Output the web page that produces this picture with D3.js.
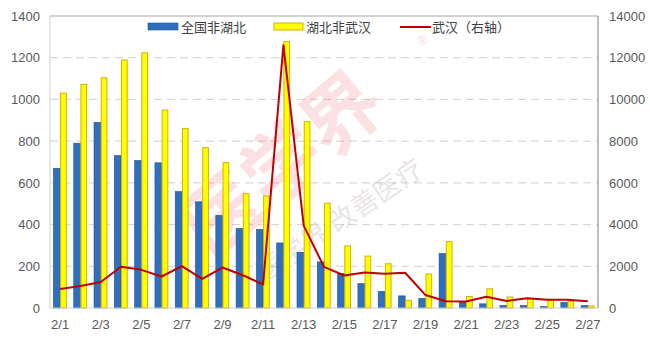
<!DOCTYPE html>
<html>
<head>
<meta charset="utf-8">
<script src="https://cdnjs.cloudflare.com/ajax/libs/d3/7.8.5/d3.min.js"></script>
<style>
  body { margin: 0; background: #fff; }
  text { font-family: "Liberation Sans", "Noto Sans CJK SC", sans-serif; }
</style>
</head>
<body>
<div id="chart"></div>
<script>
var dates = ["2/1","2/2","2/3","2/4","2/5","2/6","2/7","2/8","2/9","2/10","2/11","2/12","2/13","2/14",
             "2/15","2/16","2/17","2/18","2/19","2/20","2/21","2/22","2/23","2/24","2/25","2/26","2/27"];
var nationalExHubei = [670, 790, 890, 731, 707, 696, 558, 509, 444, 381, 377, 312, 267, 221,
                       166, 117, 80, 58, 46, 261, 30, 20, 12, 12, 7, 27, 12];
var hubeiExWuhan = [1030, 1072, 1104, 1189, 1223, 949, 860, 769, 697, 548, 537, 1277, 893, 502,
                    298, 249, 212, 37, 163, 318, 55, 92, 53, 45, 40, 33, 10];
var wuhan = [910, 1050, 1250, 1980, 1830, 1510, 2010, 1400, 1940, 1570, 1130, 12600, 3950, 1970,
             1560, 1700, 1640, 1690, 620, 320, 310, 540, 340, 470, 390, 390, 320];
var leftTicks = [0, 200, 400, 600, 800, 1000, 1200, 1400];
var rightTicks = [0, 2000, 4000, 6000, 8000, 10000, 12000, 14000];
var seriesNames = ["全国非湖北", "湖北非武汉", "武汉（右轴）"];

var W = 650, H = 340;
var m = {top: 16, right: 52, bottom: 32, left: 50};
var w = W - m.left - m.right, h = H - m.top - m.bottom;

var svg = d3.select("#chart").append("svg").attr("width", W).attr("height", H);

var x = d3.scaleBand().domain(dates).range([m.left, m.left + w]).paddingInner(0.34).paddingOuter(0.17);
var xs = d3.scaleBand().domain([0, 1]).range([0, x.bandwidth()]);
var yL = d3.scaleLinear().domain([0, 1400]).range([m.top + h, m.top]);
var yR = d3.scaleLinear().domain([0, 14000]).range([m.top + h, m.top]);
var xc = d3.scalePoint().domain(dates).range([m.left, m.left + w]).padding(0.5);

// grid
svg.append("g").selectAll("line").data(leftTicks.slice(1, -1)).join("line")
    .attr("x1", m.left).attr("x2", m.left + w)
    .attr("y1", function(d) { return yL(d); }).attr("y2", function(d) { return yL(d); })
    .attr("stroke", "#d9d9d9").attr("stroke-width", 1.3).attr("stroke-dasharray", "8,5");

// watermark
var wm = svg.append("g").attr("transform", "translate(300,185) rotate(-40)");
wm.append("text").attr("text-anchor", "middle").attr("y", 0)
    .style("font-family", "Noto Sans CJK SC").style("font-weight", "bold").style("font-size", "78px")
    .attr("fill", "#e8474f").attr("fill-opacity", 0.16).text("医学界");
svg.append("text").attr("transform", "translate(345,228) rotate(-34)").attr("text-anchor", "middle")
    .style("font-family", "Noto Sans CJK SC").style("font-size", "27px")
    .attr("fill", "#b0a0a0").attr("fill-opacity", 0.28).text("医学界 改善医疗");
svg.append("text").attr("x", 418).attr("y", 45).style("font-size", "12px")
    .attr("fill", "#e8474f").attr("fill-opacity", 0.25).text("®");

// bars
var g = svg.append("g");
g.selectAll("rect.blue").data(nationalExHubei).join("rect").attr("class", "blue")
    .attr("x", function(d, i) { return x(dates[i]) + xs(0); })
    .attr("y", function(d) { return yL(d); })
    .attr("width", xs.bandwidth())
    .attr("height", function(d) { return yL(0) - yL(d); })
    .attr("fill", "#2e6fc0").attr("stroke", "#22508e").attr("stroke-width", 0.6);
g.selectAll("rect.yellow").data(hubeiExWuhan).join("rect").attr("class", "yellow")
    .attr("x", function(d, i) { return x(dates[i]) + xs(1) + 0.5; })
    .attr("y", function(d) { return yL(d); })
    .attr("width", xs.bandwidth() - 1)
    .attr("height", function(d) { return yL(0) - yL(d); })
    .attr("fill", "#ffff00").attr("stroke", "#d8b000").attr("stroke-width", 1);

// frame
svg.append("line").attr("x1", m.left).attr("x2", m.left + w).attr("y1", m.top).attr("y2", m.top)
    .attr("stroke", "#a6a6a6");
svg.append("line").attr("x1", m.left + w).attr("x2", m.left + w).attr("y1", m.top).attr("y2", m.top + h)
    .attr("stroke", "#7f7f7f");
svg.append("line").attr("x1", m.left).attr("x2", m.left).attr("y1", m.top).attr("y2", m.top + h)
    .attr("stroke", "#d0d0d0");
svg.append("line").attr("x1", m.left).attr("x2", m.left + w).attr("y1", m.top + h).attr("y2", m.top + h)
    .attr("stroke", "#d0d0d0");

// wuhan line
var line = d3.line().x(function(d, i) { return xc(dates[i]); }).y(function(d) { return yR(d); });
svg.append("path").datum(wuhan).attr("d", line)
    .attr("fill", "none").attr("stroke", "#c00000").attr("stroke-width", 2).attr("stroke-linejoin", "round");

// axes
var axL = svg.append("g").attr("transform", "translate(" + (m.left - 10) + ",0)")
    .call(d3.axisLeft(yL).tickValues(leftTicks).tickFormat(d3.format("d")).tickSize(0).tickPadding(0));
var axR = svg.append("g").attr("transform", "translate(" + (m.left + w + 11) + ",0)")
    .call(d3.axisRight(yR).tickValues(rightTicks).tickFormat(d3.format("d")).tickSize(0).tickPadding(0));
var axB = svg.append("g").attr("transform", "translate(0," + (m.top + h + 12) + ")")
    .call(d3.axisBottom(x).tickValues(dates.filter(function(d, i) { return i % 2 === 0; })).tickSize(0).tickPadding(0));
[axL, axR, axB].forEach(function(a) {
    a.select(".domain").remove();
    a.selectAll("text").style("font-size", "13px").attr("fill", "#595959");
});

// legend
var legend = svg.append("g").style("font-size", "13px");
legend.append("rect").attr("x", 148).attr("y", 23).attr("width", 30).attr("height", 7)
    .attr("fill", "#2e6fc0").attr("stroke", "#22508e").attr("stroke-width", 0.6);
legend.append("text").attr("x", 181).attr("y", 31.5).attr("fill", "#404040").text(seriesNames[0]);
legend.append("rect").attr("x", 274).attr("y", 23).attr("width", 29).attr("height", 7)
    .attr("fill", "#ffff00").attr("stroke", "#d8b000");
legend.append("text").attr("x", 306).attr("y", 31.5).attr("fill", "#404040").text(seriesNames[1]);
legend.append("line").attr("x1", 400).attr("x2", 431).attr("y1", 27).attr("y2", 27)
    .attr("stroke", "#c00000").attr("stroke-width", 2);
legend.append("text").attr("x", 432).attr("y", 31.5).attr("fill", "#404040").text(seriesNames[2]);
</script>
</body>
</html>
